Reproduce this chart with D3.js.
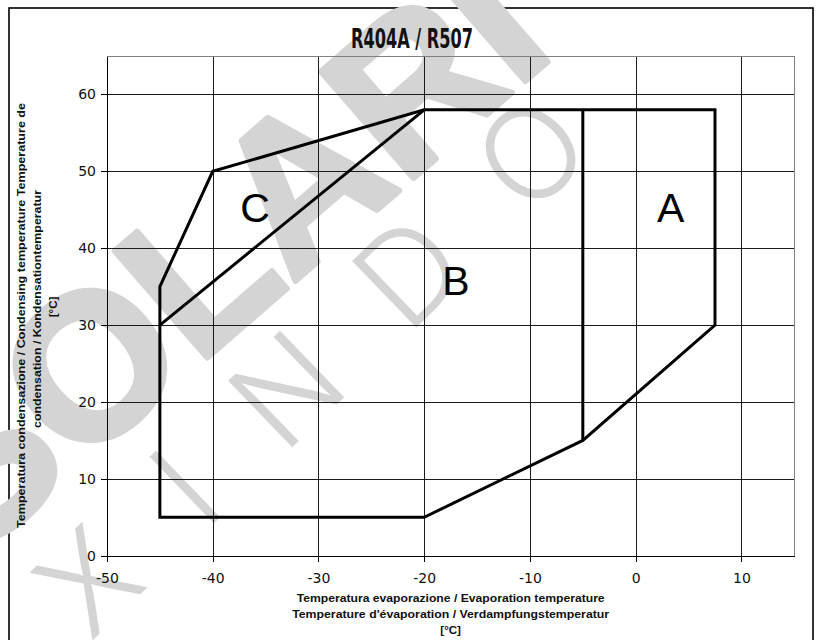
<!DOCTYPE html>
<html><head><meta charset="utf-8">
<script src="https://cdn.jsdelivr.net/npm/d3@7"></script>
<style>body{margin:0;background:#fff}svg{display:block}</style>
</head><body><svg id="c" width="821" height="640"></svg>
<script>
// ---- data ----
const chartTitle = "R404A / R507";
const xTicks = [-50, -40, -30, -20, -10, 0, 10];
const yTicks = [0, 10, 20, 30, 40, 50, 60];
const xDomain = [-50, 15];
const yDomain = [0, 65];
// operating envelope (evaporation °C, condensing °C)
const envelopeEvap = [-45, -45, -40, -20, 7.5, 7.5, -5, -20];
const envelopeCond = [5, 35, 50, 58, 58, 30, 15, 5];
// boundary between zone C and B
const boundaryCEvap = [-45, -20];
const boundaryCCond = [30, 58];
// boundary between zone B and A
const boundaryAEvap = [-5, -5];
const boundaryACond = [58, 15];
// zone labels
const zoneNames = ["A", "B", "C"];
const zoneEvap = [3.3, -17, -36];
const zoneCond = [45.3, 35.8, 45.3];
const xTitleLines = ["Temperatura evaporazione / Evaporation temperature",
                     "Temperature d'évaporation / Verdampfungstemperatur", "[°C]"];
const yTitleLines = ["Temperatura condensazione / Condensing temperature  Temperature de",
                     "condensation / Kondensationtemperatur", "[°C]"];
const watermark1 = "SOLARI";
const watermark2 = "XINDO";

// ---- layout ----
const W = 821, H = 640;
const m = {l: 107, r: 26.7, t: 56, b: 84.3};
const pw = W - m.l - m.r, ph = H - m.t - m.b;
const svg = d3.select("#c");
const x = d3.scaleLinear().domain(xDomain).range([m.l, m.l + pw]);
const y = d3.scaleLinear().domain(yDomain).range([m.t + ph, m.t]);

// outer frame
svg.append("rect").attr("x", 9).attr("y", 8).attr("width", 804).attr("height", 700)
  .attr("fill", "#fff").attr("stroke", "#000").attr("stroke-width", 1.6);

// watermark
const wmColor = "#d4d4d4";
svg.append("text").text(watermark1)
  .attr("transform", "translate(-75,505) rotate(-41)")
  .attr("dy", "0.36em")
  .attr("font-family", "Liberation Sans, Arial, sans-serif").attr("font-weight", "bold")
  .attr("font-size", 205).attr("fill", wmColor)
  .attr("stroke", wmColor).attr("stroke-width", 6).attr("stroke-linejoin", "round");
svg.append("text").text(watermark2)
  .attr("transform", "translate(58,610) rotate(-44)")
  .attr("dy", "0.36em")
  .attr("font-family", "Inter, Roboto, sans-serif").attr("font-weight", 300)
  .attr("font-size", 127).attr("letter-spacing", 76).attr("fill", wmColor);

// grid
const g = svg.append("g");
g.append("g").attr("transform", `translate(0,${m.t})`)
  .call(d3.axisBottom(x).tickValues(xTicks.slice(1)).tickSize(ph).tickFormat(""))
  .call(s => s.select(".domain").remove())
  .call(s => s.selectAll("line").attr("stroke", "#1a1a1a").attr("shape-rendering", "crispEdges"));
g.append("g").attr("transform", `translate(${m.l},0)`)
  .call(d3.axisRight(y).tickValues(yTicks.slice(1)).tickSize(pw).tickFormat(""))
  .call(s => s.select(".domain").remove())
  .call(s => s.selectAll("line").attr("stroke", "#1a1a1a").attr("shape-rendering", "crispEdges"));
// plot frame top/right
svg.append("path")
  .attr("d", `M${m.l},${m.t}H${m.l + pw}V${m.t + ph}`)
  .attr("fill", "none").attr("stroke", "#808080").attr("shape-rendering", "crispEdges");

// axes
const fmt = d => String(d);
const ax = svg.append("g").attr("transform", `translate(0,${m.t + ph})`)
  .call(d3.axisBottom(x).tickValues(xTicks).tickFormat(fmt).tickSize(6).tickPadding(8).tickSizeOuter(0));
const ay = svg.append("g").attr("transform", `translate(${m.l},0)`)
  .call(d3.axisLeft(y).tickValues(yTicks).tickFormat(fmt).tickSize(6).tickPadding(5).tickSizeOuter(0));
[ax, ay].forEach(a => {
  a.select(".domain").attr("stroke", "#000").attr("shape-rendering", "crispEdges");
  a.selectAll("line").attr("stroke", "#000").attr("shape-rendering", "crispEdges");
  a.selectAll("text").attr("font-family", "DejaVu Sans, sans-serif").attr("font-size", 14).attr("fill", "#111");
});
ax.selectAll("text").attr("dy", "0.95em");

// envelope
const pts = envelopeEvap.map((e, i) => [x(e), y(envelopeCond[i])]);
const lineGen = d3.line();
svg.append("path").attr("d", lineGen(pts) + "Z")
  .attr("fill", "none").attr("stroke", "#000").attr("stroke-width", 3).attr("stroke-linejoin", "miter");
svg.append("path").attr("d", lineGen(boundaryCEvap.map((e, i) => [x(e), y(boundaryCCond[i])])))
  .attr("fill", "none").attr("stroke", "#000").attr("stroke-width", 3);
svg.append("path").attr("d", lineGen(boundaryAEvap.map((e, i) => [x(e), y(boundaryACond[i])])))
  .attr("fill", "none").attr("stroke", "#000").attr("stroke-width", 3);

// zone labels
svg.selectAll(".zone").data(zoneNames).join("text")
  .attr("x", (d, i) => x(zoneEvap[i])).attr("y", (d, i) => y(zoneCond[i]))
  .attr("dy", "0.36em").attr("text-anchor", "middle")
  .attr("font-family", "Liberation Sans, Arial, sans-serif").attr("font-size", 41)
  .attr("fill", "#000").text(d => d);

// title
svg.append("text").text(chartTitle)
  .attr("x", 412).attr("y", 48).attr("text-anchor", "middle")
  .attr("font-family", "Liberation Sans Narrow, DejaVu Sans Condensed, sans-serif")
  .attr("font-weight", "bold").attr("font-size", 26)
  .attr("textLength", 122).attr("lengthAdjust", "spacingAndGlyphs").attr("fill", "#111");

// x title
const xtl = [308, 317, null];
xTitleLines.forEach((t, i) => {
  const tx = svg.append("text").text(t)
    .attr("x", m.l + pw / 2).attr("y", 601.5 + i * 16.3).attr("text-anchor", "middle")
    .attr("font-family", "Liberation Sans, Arial, sans-serif").attr("font-weight", "bold")
    .attr("font-size", 11.5).attr("fill", "#111");
  if (xtl[i]) tx.attr("textLength", xtl[i]).attr("lengthAdjust", "spacingAndGlyphs");
});
// y title
const ytl = [425, 238, null];
const ycx = [25, 41, 56.5];
const yCenter = [315.5, 309, 307];
yTitleLines.forEach((t, i) => {
  const tx = svg.append("text").text(t)
    .attr("transform", `translate(${ycx[i]},${yCenter[i]}) rotate(-90)`)
    .attr("text-anchor", "middle")
    .attr("font-family", "Liberation Sans, Arial, sans-serif").attr("font-weight", "bold")
    .attr("font-size", 11.5).attr("fill", "#111");
  if (ytl[i]) tx.attr("textLength", ytl[i]).attr("lengthAdjust", "spacingAndGlyphs");
});
</script></body></html>
